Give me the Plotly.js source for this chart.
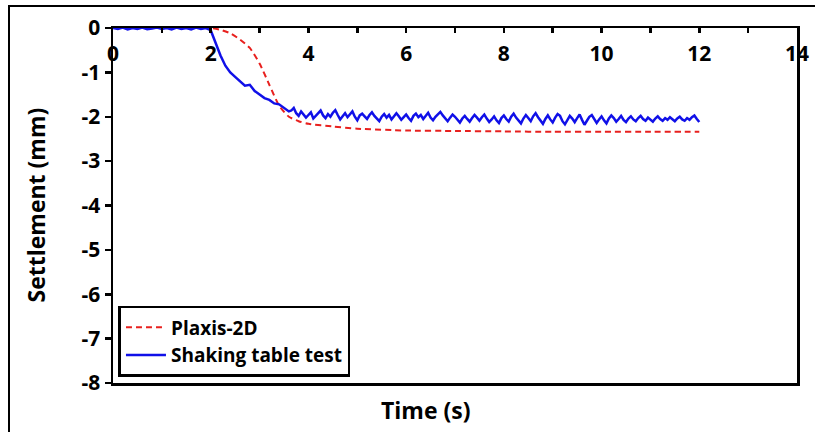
<!DOCTYPE html>
<html>
<head>
<meta charset="utf-8">
<script src="https://cdn.plot.ly/plotly-3.0.1.min.js"></script>
<style>
  html, body { margin: 0; padding: 0; background: #ffffff; width: 815px; height: 432px; overflow: hidden; }
  #frame { position: absolute; left: 8px; top: 5px; width: 900px; height: 500px;
           border-left: 2.5px solid #000; border-top: 2.5px solid #000; }
  #chart { position: absolute; left: 0; top: 0; width: 815px; height: 432px; }
</style>
</head>
<body>
<div id="frame"></div>
<div id="chart"></div>
<script>
// Values
const plaxisTime = [0, 1, 1.8, 2.0, 2.2, 2.4, 2.6, 2.8, 3.0, 3.2, 3.4, 3.6, 3.8, 4.0, 4.5, 5, 6, 7, 8, 9, 10, 11, 12];
const plaxisSettlement = [0, 0, 0, 0, -0.04, -0.12, -0.26, -0.45, -0.8, -1.28, -1.75, -2.0, -2.1, -2.16, -2.22, -2.27, -2.31, -2.32, -2.33, -2.34, -2.34, -2.34, -2.34];

const testTime = [
  0.0,0.1,0.2,0.3,0.4,0.5,0.6,0.7,0.8,0.9,
  1.0,1.1,1.2,1.3,1.4,1.5,1.6,1.7,1.8,1.9,
  2.0,2.1,2.2,2.3,2.4,2.5,2.6,2.7,2.8,2.9,
  3.0,3.1,3.2,3.3,3.4,3.5,3.6,
  3.65,3.70,3.75,3.80,3.85,3.90,3.95,4.00,4.05,4.10,
  4.15,4.20,4.25,4.30,4.35,4.40,4.45,4.50,4.55,4.60,
  4.65,4.70,4.75,4.80,4.85,4.90,4.95,5.00,5.05,5.10,
  5.15,5.20,5.25,5.30,5.35,5.40,5.45,5.50,5.55,5.60,
  5.65,5.70,5.75,5.80,5.85,5.90,5.95,6.00,6.05,6.10,
  6.15,6.20,6.25,6.30,6.35,6.40,6.45,6.50,6.55,6.60,
  6.65,6.70,6.75,6.80,6.85,6.90,6.95,7.00,7.05,7.10,
  7.15,7.20,7.25,7.30,7.35,7.40,7.45,7.50,7.55,7.60,
  7.65,7.70,7.75,7.80,7.85,7.90,7.95,8.00,8.05,8.10,
  8.15,8.20,8.25,8.30,8.35,8.40,8.45,8.50,8.55,8.60,
  8.65,8.70,8.75,8.80,8.85,8.90,8.95,9.00,9.05,9.10,
  9.15,9.20,9.25,9.30,9.35,9.40,9.45,9.50,9.55,9.60,
  9.65,9.70,9.75,9.80,9.85,9.90,9.95,10.00,10.05,10.10,
  10.15,10.20,10.25,10.30,10.35,10.40,10.45,10.50,10.55,10.60,
  10.65,10.70,10.75,10.80,10.85,10.90,10.95,11.00,11.05,11.10,
  11.15,11.20,11.25,11.30,11.35,11.40,11.45,11.50,11.55,11.60,
  11.65,11.70,11.75,11.80,11.85,11.90,11.95,12.00
];
const testSettlement = [
  0.00,-0.02,0.01,-0.03,0.00,-0.02,0.01,-0.03,-0.01,0.01,
  -0.02,0.00,-0.03,0.01,-0.02,0.00,-0.03,0.01,-0.02,0.00,
  -0.05,-0.35,-0.62,-0.85,-1.00,-1.10,-1.20,-1.30,-1.28,-1.42,
  -1.50,-1.58,-1.62,-1.70,-1.72,-1.80,-1.88,
  -1.86,-1.80,-1.92,-1.98,-1.88,-1.94,-2.02,-1.96,-1.90,-2.04,
  -1.98,-1.92,-1.86,-1.97,-2.03,-1.94,-2.00,-1.91,-1.85,-1.96,
  -2.06,-1.99,-1.92,-2.01,-1.95,-1.88,-2.00,-2.08,-1.97,-1.93,
  -1.99,-2.05,-1.96,-1.90,-1.98,-2.04,-2.10,-2.00,-1.94,-2.02,
  -1.96,-2.06,-2.00,-1.92,-1.99,-2.07,-2.01,-1.95,-2.03,-2.09,
  -1.98,-1.93,-2.01,-1.96,-2.05,-1.99,-1.91,-2.02,-2.08,-2.00,
  -1.94,-1.89,-1.97,-2.04,-2.10,-2.02,-1.95,-2.00,-2.07,-2.13,
  -2.04,-1.98,-2.05,-2.11,-2.03,-1.96,-2.02,-2.09,-2.01,-1.95,
  -2.04,-2.12,-2.06,-1.99,-2.08,-2.14,-2.03,-1.97,-2.05,-2.11,
  -2.00,-1.93,-2.02,-2.09,-2.15,-2.04,-1.96,-2.03,-2.10,-1.99,
  -1.92,-2.01,-2.08,-2.16,-2.05,-1.97,-2.06,-2.13,-2.02,-1.94,
  -1.98,-2.10,-2.17,-2.06,-1.98,-2.04,-2.12,-2.03,-1.95,-2.07,
  -2.18,-2.09,-2.00,-1.96,-2.05,-2.14,-2.06,-1.99,-2.08,-2.15,
  -2.04,-1.97,-2.03,-2.11,-2.05,-1.98,-2.07,-2.12,-2.04,-1.99,
  -2.06,-2.10,-2.03,-1.98,-2.05,-2.09,-2.02,-2.06,-2.11,-2.04,
  -1.99,-2.05,-2.09,-2.03,-2.07,-2.01,-2.06,-2.10,-2.04,-2.00,
  -2.06,-2.09,-2.03,-2.07,-2.01,-1.97,-2.05,-2.12
];

const xTickVals = [0, 2, 4, 6, 8, 10, 12, 14];
const xTickText = ['0', '2', '4', '6', '8', '10', '12', '14'];
const yTickVals = [0, -1, -2, -3, -4, -5, -6, -7, -8];
const yTickText = ['0', '-1', '-2', '-3', '-4', '-5', '-6', '-7', '-8'];

const FONT = '"Open Sans", Lato, "DejaVu Sans", sans-serif';

const traces = [
  {
    x: plaxisTime, y: plaxisSettlement, name: 'Plaxis-2D',
    type: 'scatter', mode: 'lines',
    line: { color: '#e8201e', width: 2, dash: '6px,4px', shape: 'spline', smoothing: 0.6 }
  },
  {
    x: testTime, y: testSettlement, name: 'Shaking table test',
    type: 'scatter', mode: 'lines',
    line: { color: '#1010e8', width: 2.5 }
  }
];

const layout = {
  width: 815, height: 432,
  margin: { l: 113, r: 18, t: 28, b: 49 },
  paper_bgcolor: 'rgba(0,0,0,0)',
  plot_bgcolor: '#ffffff',
  font: { family: FONT, color: '#000', size: 18 },
  showlegend: true,
  legend: {
    x: 0.008, y: 0.017, xanchor: 'left', yanchor: 'bottom',
    bgcolor: '#ffffff', bordercolor: '#000', borderwidth: 2.5,
    font: { family: FONT, size: 19, color: '#000', weight: 'bold' },
    tracegroupgap: 0, itemwidth: 40
  },
  xaxis: {
    range: [0, 14], side: 'top',
    tickmode: 'array', tickvals: xTickVals, ticktext: xTickText,
    ticks: 'inside', ticklen: 5, tickwidth: 2.5, tickcolor: '#000',
    ticklabelposition: 'inside', ticklabelstandoff: 15, ticklabeloverflow: 'allow',
    minor: { dtick: 1, ticks: 'inside', ticklen: 5, tickwidth: 2.5, tickcolor: '#000', showgrid: false },
    showline: true, linecolor: '#000', linewidth: 2.5, mirror: true,
    showgrid: false, zeroline: false,
    tickfont: { family: FONT, size: 21, color: '#000', weight: 'bold' }
  },
  yaxis: {
    range: [-8, 0],
    tickmode: 'array', tickvals: yTickVals, ticktext: yTickText,
    ticks: 'outside', ticklen: 6, tickwidth: 2.5, tickcolor: '#000',
    ticklabeloverflow: 'allow',
    showline: true, linecolor: '#000', linewidth: 2.5, mirror: true,
    showgrid: false, zeroline: false,
    tickfont: { family: FONT, size: 21, color: '#000', weight: 'bold' }
  },
  annotations: [
    {
      text: 'Time (s)', xref: 'paper', yref: 'paper', x: 0.458, y: 0, yshift: -27,
      xanchor: 'center', yanchor: 'middle', showarrow: false,
      font: { family: FONT, size: 23, color: '#000', weight: 'bold' }
    },
    {
      text: 'Settlement (mm)', xref: 'paper', yref: 'paper', x: -0.114, y: 0.5,
      xanchor: 'center', yanchor: 'middle', textangle: -90, showarrow: false,
      font: { family: FONT, size: 23, color: '#000', weight: 'bold' }
    }
  ]
};

Plotly.newPlot('chart', traces, layout, { displayModeBar: false, staticPlot: true });
</script>
</body>
</html>
